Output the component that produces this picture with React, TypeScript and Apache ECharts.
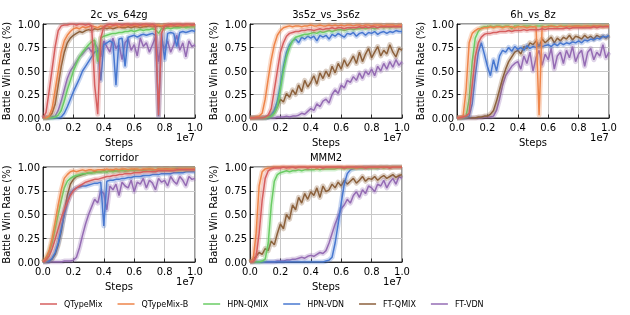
import React, { useEffect, useRef } from "react";
import * as echarts from "echarts";

// x sample positions (environment steps)
const STEPS: number[] = Array.from({ length: 51 }, (_, i) => i * 2e5);

const NAMES = ["QTypeMix", "QTypeMix-B", "HPN-QMIX", "HPN-VDN", "FT-QMIX", "FT-VDN"];
const COLORS = ["#d65f5f", "#ee854a", "#6acc64", "#4878d0", "#8c613c", "#956cb4"];
const X_TICKS = ["0.0", "0.2", "0.4", "0.6", "0.8", "1.0"];

// ---- 2c_vs_64zg ----
const S1_QTM = [0,0.06,0.28,0.52,0.76,0.93,0.98,0.99,0.99,1, 1,0.99,1,1,0.99,1,0.98,0.35,0.04,0.85, 0.97,0.99,1,0.99,1,1,0.99,1,1,0.99, 1,1,0.99,1,1,0.99,1,0.98,0.03,0.9, 0.98,0.99,1,0.99,1,1,0.99,1,1,0.99, 1];
const S1_QTMB = [0,0,0.02,0.1,0.3,0.5,0.7,0.82,0.88,0.92, 0.95,0.96,0.95,0.97,0.96,0.97,0.98,0.97,0.96,0.98, 0.97,0.98,0.97,0.98,0.99,0.97,0.98,0.98,0.99,0.98, 0.99,0.98,0.99,0.98,0.99,0.99,0.98,0.99,0.99,0.98, 0.99,0.99,0.98,0.99,0.99,0.99,0.98,0.99,0.99,0.99, 0.99];
const S1_HQ = [0,0,0,0,0.01,0.03,0.08,0.18,0.3,0.4, 0.5,0.58,0.65,0.7,0.74,0.78,0.81,0.83,0.6,0.85, 0.87,0.88,0.89,0.9,0.9,0.91,0.91,0.92,0.92,0.93, 0.92,0.93,0.94,0.93,0.94,0.94,0.95,0.94,0.9,0.95, 0.95,0.96,0.95,0.96,0.96,0.96,0.97,0.96,0.97,0.97, 0.97];
const S1_HV = [0,0,0,0,0,0,0.01,0.05,0.12,0.2, 0.28,0.35,0.42,0.5,0.55,0.6,0.65,0.7,0.72,0.4, 0.78,0.8,0.82,0.8,0.35,0.84,0.85,0.55,0.86,0.87, 0.88,0.86,0.88,0.89,0.88,0.89,0.9,0.88,0.02,0.9, 0.62,0.9,0.91,0.9,0.76,0.91,0.92,0.91,0.92,0.93, 0.92];
const S1_FQ = [0,0,0.01,0.05,0.15,0.35,0.55,0.7,0.8,0.85, 0.88,0.9,0.92,0.91,0.93,0.94,0.93,0.95,0.94,0.95, 0.96,0.95,0.96,0.95,0.96,0.97,0.96,0.96,0.97,0.96, 0.97,0.97,0.96,0.97,0.97,0.98,0.97,0.97,0.98,0.97, 0.98,0.97,0.98,0.98,0.97,0.98,0.98,0.98,0.97,0.98, 0.98];
const S1_FV = [0,0,0,0.01,0.02,0.08,0.18,0.3,0.42,0.5, 0.55,0.6,0.65,0.68,0.72,0.75,0.7,0.8,0.74,0.65, 0.82,0.76,0.7,0.85,0.74,0.78,0.62,0.8,0.84,0.72, 0.78,0.66,0.85,0.76,0.8,0.7,0.78,0.86,0.6,0.8, 0.74,0.82,0.7,0.78,0.88,0.72,0.8,0.65,0.82,0.76, 0.78];

// ---- 3s5z_vs_3s6z ----
const S2_QTM = [0,0,0,0,0,0.01,0.03,0.1,0.3,0.5, 0.7,0.8,0.87,0.9,0.91,0.92,0.92,0.93,0.93,0.94, 0.94,0.93,0.94,0.95,0.94,0.95,0.95,0.96,0.95,0.96, 0.96,0.95,0.96,0.96,0.96,0.96,0.97,0.96,0.97,0.96, 0.97,0.97,0.96,0.97,0.97,0.97,0.97,0.97,0.97,0.97, 0.97];
const S2_QTMB = [0,0,0.01,0.02,0.05,0.2,0.42,0.62,0.78,0.88, 0.93,0.96,0.97,0.98,0.97,0.98,0.98,0.97,0.98,0.98, 0.99,0.98,0.98,0.99,0.98,0.98,0.99,0.98,0.99,0.98, 0.99,0.98,0.99,0.99,0.98,0.99,0.99,0.98,0.99,0.99, 0.98,0.99,0.99,0.99,0.98,0.99,0.99,0.99,0.98,0.99, 0.99];
const S2_HQ = [0,0,0,0,0,0,0.01,0.02,0.05,0.12, 0.3,0.5,0.65,0.75,0.82,0.86,0.87,0.88,0.89,0.89, 0.9,0.91,0.9,0.92,0.91,0.92,0.93,0.92,0.93,0.94, 0.94,0.93,0.94,0.95,0.94,0.95,0.95,0.96,0.95,0.96, 0.96,0.95,0.96,0.97,0.96,0.97,0.96,0.97,0.97,0.97, 0.97];
const S2_HV = [0,0,0,0,0,0,0.01,0.03,0.08,0.18, 0.35,0.55,0.7,0.78,0.82,0.84,0.8,0.86,0.84,0.87, 0.85,0.87,0.82,0.88,0.86,0.88,0.84,0.89,0.87,0.9, 0.88,0.86,0.9,0.89,0.91,0.87,0.9,0.91,0.88,0.91, 0.9,0.92,0.89,0.91,0.92,0.9,0.92,0.91,0.93,0.92, 0.92];
const S2_FQ = [0,0,0,0,0,0,0.01,0.03,0.06,0.12, 0.2,0.17,0.26,0.22,0.3,0.25,0.35,0.28,0.4,0.33, 0.38,0.45,0.36,0.48,0.42,0.5,0.44,0.55,0.48,0.58, 0.52,0.62,0.55,0.6,0.66,0.58,0.7,0.6,0.68,0.74, 0.64,0.7,0.76,0.66,0.72,0.68,0.78,0.7,0.65,0.74, 0.72];
const S2_FV = [0,0,0,0,0,0,0,0,0,0.01, 0.01,0.01,0.02,0.01,0.02,0.02,0.03,0.05,0.04,0.07, 0.1,0.08,0.15,0.12,0.18,0.2,0.16,0.25,0.3,0.26, 0.35,0.32,0.4,0.38,0.44,0.4,0.48,0.42,0.5,0.46, 0.52,0.45,0.55,0.5,0.58,0.52,0.6,0.54,0.62,0.56, 0.6];

// ---- 6h_vs_8z ----
const S3_QTM = [0,0,0.01,0.02,0.05,0.35,0.65,0.8,0.86,0.89, 0.9,0.9,0.91,0.91,0.92,0.92,0.92,0.93,0.92,0.93, 0.93,0.93,0.94,0.93,0.94,0.94,0.94,0.94,0.95,0.94, 0.95,0.95,0.95,0.95,0.95,0.95,0.96,0.95,0.96,0.96, 0.96,0.96,0.96,0.96,0.96,0.97,0.96,0.97,0.97,0.97, 0.97];
const S3_QTMB = [0,0.01,0.02,0.3,0.8,0.9,0.93,0.95,0.95,0.96, 0.96,0.97,0.96,0.97,0.97,0.96,0.97,0.97,0.97,0.96, 0.97,0.97,0.97,0.96,0.97,0.97,0.97,0.03,0.97,0.97, 0.97,0.98,0.97,0.97,0.98,0.97,0.97,0.98,0.97,0.98, 0.98,0.97,0.98,0.98,0.97,0.98,0.98,0.98,0.97,0.98, 0.98];
const S3_HQ = [0,0,0.01,0.02,0.2,0.6,0.85,0.92,0.96,0.97, 0.97,0.98,0.97,0.98,0.98,0.97,0.98,0.98,0.95,0.98, 0.98,0.97,0.98,0.98,0.98,0.97,0.98,0.98,0.98,0.97, 0.98,0.98,0.98,0.97,0.98,0.98,0.98,0.97,0.98,0.98, 0.98,0.98,0.97,0.98,0.98,0.98,0.98,0.98,0.98,0.98, 0.98];
const S3_HV = [0,0,0,0.01,0.02,0.15,0.45,0.7,0.8,0.68, 0.55,0.45,0.62,0.5,0.66,0.72,0.7,0.75,0.71,0.76, 0.73,0.75,0.72,0.77,0.74,0.76,0.75,0.78,0.76,0.77, 0.78,0.76,0.79,0.77,0.8,0.78,0.8,0.79,0.81,0.8, 0.82,0.8,0.83,0.82,0.84,0.83,0.85,0.84,0.87,0.86, 0.88];
const S3_FQ = [0,0,0,0,0,0,0,0.01,0.01,0.02, 0.02,0.04,0.08,0.18,0.3,0.42,0.52,0.6,0.65,0.7, 0.72,0.68,0.76,0.74,0.8,0.78,0.82,0.76,0.84,0.8, 0.83,0.86,0.8,0.85,0.82,0.86,0.84,0.88,0.83,0.87, 0.86,0.84,0.88,0.85,0.87,0.84,0.88,0.86,0.87,0.85, 0.88];
const S3_FV = [0,0,0,0,0,0,0,0,0,0.01, 0.01,0.01,0.02,0.08,0.2,0.35,0.45,0.5,0.55,0.58, 0.6,0.52,0.66,0.58,0.7,0.5,0.64,0.72,0.56,0.68, 0.62,0.74,0.52,0.66,0.7,0.58,0.72,0.64,0.76,0.6, 0.68,0.72,0.55,0.7,0.74,0.62,0.7,0.66,0.78,0.64, 0.7];

// ---- corridor ----
const S4_QTM = [0,0.02,0.06,0.14,0.24,0.35,0.46,0.55,0.63,0.7, 0.75,0.78,0.8,0.82,0.84,0.85,0.86,0.87,0.87,0.88, 0.89,0.9,0.9,0.91,0.91,0.92,0.92,0.93,0.93,0.93, 0.94,0.94,0.94,0.95,0.95,0.95,0.95,0.95,0.96,0.96, 0.96,0.96,0.96,0.96,0.97,0.97,0.97,0.97,0.97,0.97, 0.97];
const S4_QTMB = [0,0.05,0.12,0.25,0.42,0.6,0.76,0.88,0.92,0.95, 0.96,0.95,0.96,0.97,0.96,0.97,0.97,0.96,0.97,0.97, 0.97,0.98,0.97,0.97,0.98,0.97,0.98,0.98,0.97,0.98, 0.98,0.98,0.97,0.98,0.98,0.98,0.98,0.97,0.98,0.98, 0.98,0.98,0.98,0.98,0.97,0.98,0.98,0.98,0.98,0.98, 0.98];
const S4_HQ = [0,0.03,0.1,0.2,0.35,0.5,0.65,0.78,0.85,0.88, 0.9,0.91,0.92,0.93,0.93,0.94,0.94,0.94,0.95,0.95, 0.95,0.95,0.96,0.95,0.96,0.96,0.96,0.96,0.96,0.97, 0.96,0.97,0.97,0.96,0.97,0.97,0.97,0.97,0.97,0.97, 0.97,0.97,0.97,0.98,0.97,0.97,0.98,0.97,0.98,0.98, 0.98];
const S4_HV = [0,0,0.01,0.04,0.1,0.2,0.35,0.5,0.62,0.72, 0.76,0.78,0.79,0.8,0.8,0.81,0.82,0.83,0.83,0.84, 0.38,0.85,0.86,0.86,0.87,0.87,0.88,0.88,0.89,0.89, 0.9,0.9,0.9,0.91,0.91,0.91,0.92,0.92,0.92,0.93, 0.93,0.93,0.93,0.94,0.94,0.94,0.94,0.95,0.95,0.95, 0.95];
const S4_FQ = [0,0,0.01,0.03,0.08,0.18,0.32,0.52,0.7,0.82, 0.87,0.9,0.91,0.92,0.93,0.94,0.94,0.95,0.95,0.95, 0.96,0.95,0.96,0.96,0.96,0.96,0.97,0.96,0.97,0.97, 0.97,0.97,0.97,0.97,0.97,0.98,0.97,0.97,0.98,0.97, 0.98,0.98,0.97,0.98,0.98,0.98,0.98,0.98,0.98,0.98, 0.98];
const S4_FV = [0,0,0,0,0,0,0,0.01,0.01,0.01, 0.02,0.05,0.15,0.28,0.4,0.5,0.58,0.66,0.62,0.75, 0.72,0.55,0.8,0.76,0.82,0.7,0.84,0.8,0.78,0.86, 0.74,0.84,0.82,0.88,0.78,0.86,0.83,0.76,0.88,0.84, 0.86,0.8,0.9,0.85,0.82,0.9,0.86,0.8,0.9,0.87, 0.88];

// ---- MMM2 ----
const S5_QTM = [0,0,0.05,0.3,0.65,0.88,0.96,0.98,0.99,0.99, 0.99,1,0.99,1,1,0.99,1,1,1,0.99, 1,1,1,1,0.99,1,1,1,1,1, 1,0.99,1,1,1,1,1,1,0.99,1, 1,1,1,1,1,1,0.99,1,1,1, 1];
const S5_QTMB = [0,0.02,0.3,0.8,0.95,0.98,0.99,0.99,1,1, 1,1,1,0.99,1,1,1,1,1,1, 1,1,0.99,1,1,1,1,1,1,1, 1,1,1,1,1,0.99,1,1,1,1, 1,1,1,1,1,1,1,1,1,1, 1];
const S5_HQ = [0,0,0,0,0.01,0.03,0.2,0.6,0.85,0.92, 0.94,0.95,0.96,0.95,0.96,0.96,0.97,0.96,0.97,0.97, 0.97,0.97,0.98,0.97,0.98,0.98,0.98,0.98,0.98,0.99, 0.99,0.98,0.99,0.99,0.99,0.99,0.99,0.99,0.99,0.99, 0.99,0.99,0.99,1,0.99,1,0.99,1,1,1, 1];
const S5_HV = [0,0,0,0,0,0,0,0,0,0, 0,0,0,0,0,0,0,0,0,0, 0,0,0,0,0,0.01,0.02,0.05,0.2,0.4, 0.62,0.82,0.93,0.97,0.98,0.99,0.99,0.99,1,0.99, 1,1,0.99,1,1,1,1,1,1,1, 1];
const S5_FQ = [0,0.03,0.06,0.1,0.08,0.14,0.12,0.22,0.18,0.3, 0.4,0.35,0.5,0.45,0.6,0.55,0.68,0.62,0.72,0.66, 0.74,0.7,0.78,0.68,0.8,0.74,0.76,0.82,0.78,0.84, 0.8,0.86,0.82,0.85,0.88,0.83,0.86,0.9,0.85,0.88, 0.87,0.9,0.86,0.89,0.91,0.88,0.9,0.92,0.89,0.91, 0.92];
const S5_FV = [0,0,0,0,0,0,0,0,0,0.01, 0.01,0.01,0.02,0.02,0.03,0.03,0.04,0.05,0.04,0.06, 0.07,0.06,0.08,0.1,0.09,0.12,0.2,0.3,0.4,0.48, 0.56,0.6,0.66,0.62,0.7,0.74,0.68,0.76,0.72,0.8, 0.78,0.74,0.82,0.8,0.86,0.78,0.84,0.88,0.82,0.9, 0.88];

const TITLES = ["2c_vs_64zg", "3s5z_vs_3s6z", "6h_vs_8z", "corridor", "MMM2"];
const PANEL_DATA = [
  [S1_QTM, S1_QTMB, S1_HQ, S1_HV, S1_FQ, S1_FV],
  [S2_QTM, S2_QTMB, S2_HQ, S2_HV, S2_FQ, S2_FV],
  [S3_QTM, S3_QTMB, S3_HQ, S3_HV, S3_FQ, S3_FV],
  [S4_QTM, S4_QTMB, S4_HQ, S4_HV, S4_FQ, S4_FV],
  [S5_QTM, S5_QTMB, S5_HQ, S5_HV, S5_FQ, S5_FV],
];

// layout (pixels)
const LAYOUT = [
  { left: 43, top: 24, width: 152, height: 94 },
  { left: 250, top: 24, width: 152, height: 94 },
  { left: 457, top: 24, width: 152, height: 94 },
  { left: 43, top: 167, width: 152, height: 95 },
  { left: 250, top: 167, width: 152, height: 95 },
];

const FONT = "DejaVu Sans";

export default function App() {
  const ref = useRef<HTMLDivElement>(null);
  useEffect(() => {
    if (!ref.current) return;
    const chart = echarts.init(ref.current, null, { renderer: "svg" });
    const grids: any[] = [];
    const xAxes: any[] = [];
    const yAxes: any[] = [];
    const series: any[] = [];
    const graphics: any[] = [];
    LAYOUT.forEach((g, gi) => {
      grids.push({
        left: g.left, top: g.top, width: g.width, height: g.height,
        show: true, borderColor: "#000", borderWidth: 0.8, backgroundColor: "transparent",
      });
      xAxes.push({
        type: "value", gridIndex: gi, min: 0, max: 1e7, interval: 2e6,
        name: "Steps", nameLocation: "middle", nameGap: 19,
        nameTextStyle: { fontSize: 10, color: "#000", fontFamily: FONT },
        axisLine: { show: true, lineStyle: { color: "#000", width: 0.8 } },
        axisTick: { show: true, inside: true, length: 3.5, lineStyle: { color: "#000", width: 0.8 } },
        axisLabel: {
          fontSize: 10, color: "#000", fontFamily: FONT, margin: 4,
          formatter: (v: number) => X_TICKS[Math.round(v / 2e6)] ?? "",
        },
        splitLine: { show: true, lineStyle: { color: "#c8c8c8", width: 1 } },
      });
      yAxes.push({
        type: "value", gridIndex: gi, min: 0, max: 1, interval: 0.25,
        name: "Battle Win Rate (%)", nameLocation: "middle", nameGap: 32,
        nameTextStyle: { fontSize: 10, color: "#000", fontFamily: FONT },
        axisLine: { show: true, lineStyle: { color: "#000", width: 0.8 } },
        axisTick: { show: true, inside: true, length: 3.5, lineStyle: { color: "#000", width: 0.8 } },
        axisLabel: {
          fontSize: 10, color: "#000", fontFamily: FONT, margin: 3,
          formatter: (v: number) => v.toFixed(2),
        },
        splitLine: { show: true, lineStyle: { color: "#c8c8c8", width: 1 } },
      });
      [5, 4, 3, 2, 1, 0].forEach((k) => {
        const vals = PANEL_DATA[gi][k];
        const pts = STEPS.map((x, i) => [x, vals[i]]);
        // translucent wide stroke standing in for the spread band
        series.push({
          type: "line", name: NAMES[k], xAxisIndex: gi, yAxisIndex: gi,
          data: pts, showSymbol: false, symbol: "none", silent: true,
          lineStyle: { color: COLORS[k], width: 5, opacity: 0.3, join: "round" },
          itemStyle: { color: COLORS[k] },
        });
        series.push({
          type: "line", name: NAMES[k], xAxisIndex: gi, yAxisIndex: gi,
          data: pts, showSymbol: false, symbol: "none", silent: true,
          lineStyle: { color: COLORS[k], width: 1.5, opacity: 1 },
          itemStyle: { color: COLORS[k] },
        });
      });
      graphics.push({
        type: "text", x: g.left + g.width / 2, y: g.top - 10,
        style: { text: TITLES[gi], fontSize: 10, fill: "#000", fontFamily: FONT, textAlign: "center", textVerticalAlign: "middle" },
      });
      graphics.push({
        type: "text", x: g.left + g.width, y: g.top + g.height + 19,
        style: { text: "1e7", fontSize: 10, fill: "#000", fontFamily: FONT, textAlign: "right", textVerticalAlign: "middle" },
      });
    });
    chart.setOption({
      animation: false,
      textStyle: { fontFamily: FONT },
      grid: grids,
      xAxis: xAxes,
      yAxis: yAxes,
      series,
      graphic: graphics,
      legend: {
        data: NAMES.map((n) => ({ name: n })),
        left: 35, top: 295, icon: "rect", itemWidth: 17, itemHeight: 1.5, itemGap: 15,
        textStyle: { fontSize: 8, color: "#000", fontFamily: FONT, padding: [0, 0, 0, 2] },
      },
    });
    return () => chart.dispose();
  }, []);
  return <div ref={ref} style={{ position: "fixed", left: 0, top: 0, width: 630, height: 315 }} />;
}
